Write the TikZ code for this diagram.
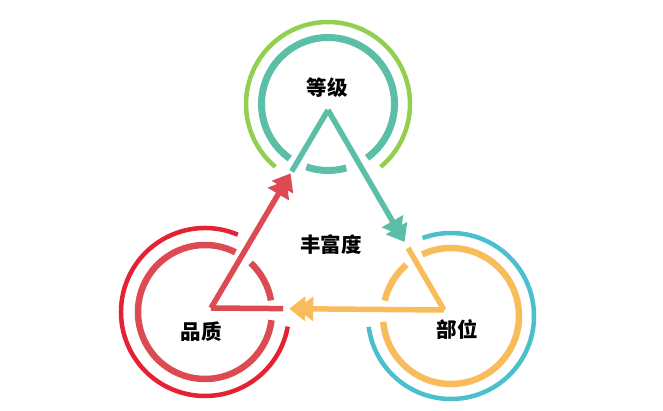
\documentclass[tikz,border=0pt]{standalone}
\usepackage{fontspec}
\newfontfamily\cjk{Noto Sans CJK SC}
\usetikzlibrary{arrows.meta,calc}
\definecolor{cgreen}{HTML}{92CF4E}
\definecolor{cteal}{HTML}{5BBFA7}
\definecolor{credo}{HTML}{E52233}
\definecolor{credi}{HTML}{DC4A52}
\definecolor{corange}{HTML}{F9BC5A}
\definecolor{cblue}{HTML}{4BBFCB}
\tikzset{
  outerring/.style={line width=4.5pt},
  innerring/.style={line width=6.5pt},
  leg/.style={line width=5.5pt, line join=miter},
  arrowleg/.style={leg, -{Triangle[length=16pt,width=24pt,sep=-8pt]Triangle[length=16pt,width=24pt,sep=-8pt]}},
  lbl/.style={font=\cjk\bfseries\fontsize{20.5}{20.5}\selectfont, text=black, inner sep=0pt}
}
\begin{document}
\begin{tikzpicture}[x=1pt,y=1pt]
\useasboundingbox (0,0) rectangle (663,410);
% centres and triangle vertices
\coordinate (C1) at (328,306);
\coordinate (C2) at (205,98);
\coordinate (C3) at (451,94);
\coordinate (T) at (328,300);
\coordinate (L) at (211,102);
\coordinate (R) at (444,100);
% top circle
\draw[outerring, cgreen] ([shift={(310:82)}]C1) arc[start angle=310, end angle=590, radius=82];
\draw[innerring, cteal, line width=7pt] ([shift={(306:66.5)}]C1) arc[start angle=306, end angle=595, radius=66.5];
\draw[innerring, cteal, line width=7pt] ([shift={(251:66.5)}]C1) arc[start angle=251, end angle=286, radius=66.5];
% red circle
\draw[outerring, credo] ([shift={(67:84)}]C2) arc[start angle=67, end angle=350, radius=84];
\draw[innerring, credi] ([shift={(63:67)}]C2) arc[start angle=63, end angle=353, radius=67];
\draw[innerring, credi] ([shift={(10:67)}]C2) arc[start angle=10, end angle=47, radius=67];
% orange circle
\draw[outerring, cblue] ([shift={(187.5:83)}]C3) arc[start angle=187.5, end angle=470, radius=83];
\draw[innerring, corange] ([shift={(185:68)}]C3) arc[start angle=185, end angle=475, radius=68];
\draw[innerring, corange] ([shift={(131:68)}]C3) arc[start angle=131, end angle=167, radius=68];
% legs
\coordinate (Tl) at ($(T)!0.31!(L)$);
\coordinate (Ta) at ($(T)!0.625!(R)$);
\coordinate (Lr) at ($(L)!0.31!(R)$);
\coordinate (La) at ($(L)!0.645!(T)$);
\coordinate (Rt) at ($(R)!0.31!(T)$);
\coordinate (Ra) at ($(R)!0.63!(L)$);
\draw[leg, cteal] (Tl) -- (T);
\draw[arrowleg, cteal] (T) -- (Ta);
\draw[leg, credi] (Lr) -- (L);
\draw[arrowleg, credi] (L) -- (La);
\draw[leg, corange] (Rt) -- (R);
\draw[arrowleg, corange] (R) -- (Ra);
% labels
\node[lbl] (n1) at (327,322) {等级};
\node[lbl] (n2) at (201,78) {品质};
\node[lbl] (n3) at (457,80) {部位};
\node[lbl] (n0) at (331,165) {丰富度};
\end{tikzpicture}
\end{document}
